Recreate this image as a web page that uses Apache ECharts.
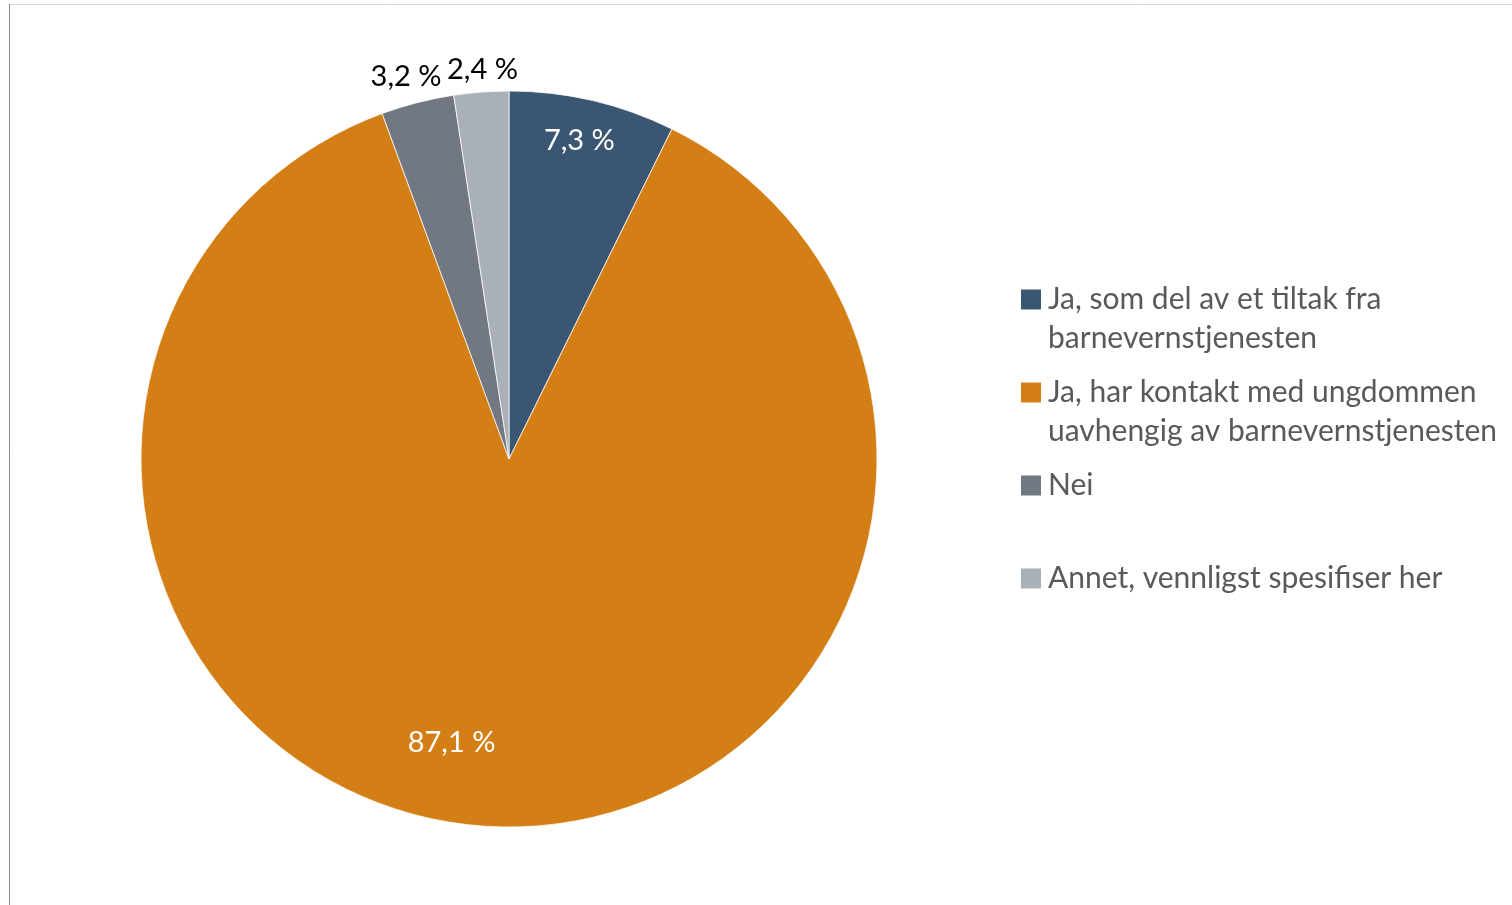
<!DOCTYPE html>
<html>
<head>
<meta charset="utf-8">
<script src="https://cdn.jsdelivr.net/npm/echarts@6/dist/echarts.min.js"></script>
<style>
  html, body { margin: 0; padding: 0; background: #fff; }
  #chart { width: 1512px; height: 905px; }
</style>
</head>
<body>
<div id="chart"></div>
<script>
// svar-kategorier og andeler (prosent)
const categories = [
  'Ja, som del av et tiltak fra barnevernstjenesten',
  'Ja, har kontakt med ungdommen uavhengig av barnevernstjenesten',
  'Nei',
  'Annet, vennligst spesifiser her'
]
// legend text wrapped like the original; leading blank line keeps the marker on the first line
const legendText = [
  '\u00a0\nJa, som del av et tiltak fra\nbarnevernstjenesten',
  '\u00a0\nJa, har kontakt med ungdommen\nuavhengig av barnevernstjenesten',
  '\u00a0\nNei\n\u00a0',
  '\u00a0\nAnnet, vennligst spesifiser her\n\u00a0'
]
const shares = [7.3, 87.1, 3.2, 2.4]
const colors = ['#3a5673', '#d47e16', '#717881', '#a9b0b7']
const labelColors = ['#ffffff', '#ffffff', '#000000', '#000000']

const cx = 509
const cy = 459
const labelRadius = [327, 289, 398, 392]
const labelShift = [[-4, 0], [-42, -5], [-4, 3], [3, 2]]
const fontFamily = 'Lato, "Open Sans", sans-serif'

const chart = echarts.init(document.getElementById('chart'))
const option = {
  animation: false,
  textStyle: { fontFamily: fontFamily },
  graphic: [
    { type: 'line', shape: { x1: 10, y1: 4.5, x2: 1512, y2: 4.5 }, style: { stroke: '#d9d9d9', lineWidth: 1 } },
    { type: 'line', shape: { x1: 9.5, y1: 4, x2: 9.5, y2: 905 }, style: { stroke: '#8c8c8c', lineWidth: 1 } }
  ],
  legend: {
    orient: 'vertical',
    left: 1019,
    top: 241,
    padding: 0,
    itemGap: -24,
    itemWidth: 22,
    itemHeight: 22,
    icon: 'rect',
    data: categories,
    formatter: function (name) {
      return legendText[categories.indexOf(name)]
    },
    textStyle: {
      fontFamily: fontFamily,
      fontSize: 30,
      color: '#595959',
      lineHeight: 39,
      padding: [0, 0, 0, 1]
    }
  },
  series: [
    {
      type: 'pie',
      center: [cx, cy],
      radius: 368,
      startAngle: 90,
      clockwise: true,
      avoidLabelOverlap: false,
      itemStyle: { borderColor: '#ffffff', borderWidth: 0.75 },
      emphasis: { disabled: true },
      labelLine: { show: false },
      label: {
        show: true,
        position: 'inside',
        fontFamily: fontFamily,
        fontSize: 29,
        formatter: function (p) {
          return p.value.toFixed(1).replace('.', ',') + ' %'
        }
      },
      labelLayout: function (p) {
        const r = p.labelRect
        const lx = r.x + r.width / 2 - cx
        const ly = r.y + r.height / 2 - cy
        const k = labelRadius[p.dataIndex] / Math.hypot(lx, ly)
        const s = labelShift[p.dataIndex]
        return { dx: lx * (k - 1) + s[0], dy: ly * (k - 1) + s[1] }
      },
      data: categories.map(function (name, i) {
        return {
          name: name,
          value: shares[i],
          itemStyle: { color: colors[i] },
          label: { color: labelColors[i] }
        }
      })
    }
  ]
}
chart.setOption(option)
</script>
</body>
</html>
